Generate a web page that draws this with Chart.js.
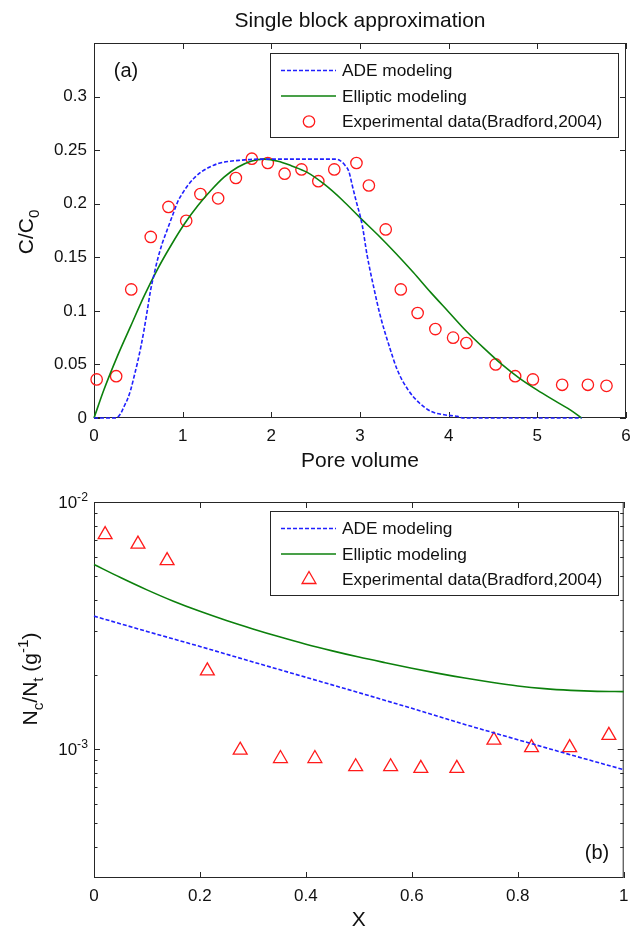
<!DOCTYPE html>
<html>
<head>
<meta charset="utf-8">
<script src="https://cdn.jsdelivr.net/npm/chart.js@4.4.0/dist/chart.umd.min.js"></script>
<style>
  html, body { margin: 0; padding: 0; background: #fff; overflow: hidden; }
  #wrap { position: relative; width: 633px; height: 927px; }
  #top { position: absolute; left: 0; top: 0; }
  #bot { position: absolute; left: 0; top: 480px; }
</style>
</head>
<body>
<div id="wrap">
  <canvas id="top" width="633" height="480"></canvas>
  <canvas id="bot" width="633" height="460"></canvas>
</div>
<script>
// ---- (a) effluent concentration vs pore volume ----
const pvObs = [0.03, 0.25, 0.42, 0.64, 0.84, 1.04, 1.20, 1.40, 1.60, 1.78, 1.96, 2.15, 2.34, 2.53, 2.71,
               2.96, 3.10, 3.29, 3.46, 3.65, 3.85, 4.05, 4.20, 4.53, 4.75, 4.95, 5.28, 5.57, 5.78];
const cObs = [0.036, 0.039, 0.120, 0.169, 0.197, 0.184, 0.209, 0.205, 0.224, 0.242, 0.238, 0.228, 0.232, 0.221, 0.232,
              0.238, 0.217, 0.176, 0.120, 0.098, 0.083, 0.075, 0.070, 0.050, 0.039, 0.036, 0.031, 0.031, 0.030];

const adePv = [0, 0.245, 0.30, 0.34, 0.38, 0.415, 0.45, 0.49, 0.53, 0.566, 0.60, 0.64, 0.68, 0.717, 0.77,
               0.83, 0.89, 0.943, 1.0, 1.057, 1.13, 1.21, 1.30, 1.40, 1.52, 1.66, 1.85, 2.72, 2.78, 2.83,
               2.875, 2.91, 2.95, 3.025, 3.08, 3.16, 3.23, 3.33, 3.42, 3.54, 3.67, 3.80, 3.95, 4.10, 4.17, 5.50];
const adeC = [0, 0, 0.004, 0.011, 0.018, 0.0266, 0.038, 0.0516, 0.067, 0.083, 0.100, 0.120, 0.135, 0.148, 0.163,
              0.1766, 0.190, 0.2016, 0.210, 0.217, 0.224, 0.2297, 0.234, 0.2375, 0.2395, 0.2406, 0.2416, 0.2416, 0.240, 0.236,
              0.230, 0.218, 0.2046, 0.180, 0.152, 0.120, 0.095, 0.067, 0.045, 0.0265, 0.014, 0.0062, 0.003, 0.0015, 0, 0];

const ellPv = [0, 0.113, 0.264, 0.415, 0.566, 0.717, 0.868, 1.019, 1.17, 1.32, 1.47, 1.62, 1.77, 1.92, 2.075,
               2.23, 2.4, 2.6, 2.8, 3.0, 3.2, 3.4, 3.6, 3.8, 4.0, 4.2, 4.4, 4.6, 4.8, 5.0,
               5.2, 5.4, 5.5];
const ellC = [0, 0.0266, 0.0578, 0.086, 0.114, 0.139, 0.161, 0.181, 0.198, 0.2125, 0.225, 0.234, 0.2397, 0.2416, 0.2397,
              0.2353, 0.2295, 0.218, 0.2035, 0.187, 0.171, 0.154, 0.136, 0.117, 0.099, 0.081, 0.065, 0.050, 0.037, 0.026,
              0.016, 0.006, 0];

const pvTicks = [0, 1, 2, 3, 4, 5, 6];
const cTicks = [0, 0.05, 0.1, 0.15, 0.2, 0.25, 0.3, 0.35];
const cLabels = ['0', '0.05', '0.1', '0.15', '0.2', '0.25', '0.3', ''];

// ---- (b) retained profile vs distance ----
const xObs = [0.021, 0.083, 0.138, 0.214, 0.276, 0.352, 0.417, 0.494, 0.56, 0.617, 0.685, 0.755, 0.826, 0.898, 0.972];
const ncObs = [7.38e-3, 6.75e-3, 5.79e-3, 2.07e-3, 9.88e-4, 9.14e-4, 9.14e-4, 8.47e-4, 8.47e-4, 8.34e-4, 8.34e-4,
               1.086e-3, 1.012e-3, 1.012e-3, 1.135e-3];

const xAde = [0, 0.1, 0.2, 0.3, 0.4, 0.5, 0.6, 0.7, 0.8, 0.9, 1.0];
const adeN = [3.45e-3, 2.99e-3, 2.60e-3, 2.25e-3, 1.95e-3, 1.69e-3, 1.46e-3, 1.256e-3, 1.089e-3, 9.46e-4, 8.24e-4];

const xEll = [0, 0.05, 0.1, 0.15, 0.2, 0.25, 0.3, 0.35, 0.4, 0.45, 0.5, 0.55, 0.6, 0.65, 0.7, 0.75, 0.8, 0.85, 0.9, 0.95, 1.0];
const ellN = [5.585e-3, 4.943e-3, 4.406e-3, 3.963e-3, 3.606e-3, 3.311e-3, 3.062e-3, 2.844e-3, 2.655e-3, 2.495e-3, 2.355e-3,
              2.234e-3, 2.123e-3, 2.023e-3, 1.936e-3, 1.862e-3, 1.799e-3, 1.754e-3, 1.726e-3, 1.710e-3, 1.706e-3];

const xTicks = [0, 0.2, 0.4, 0.6, 0.8, 1];
const nTicks = [1e-3, 1e-2];
const nExp = ['-3', '-2'];
const nMinor = [4e-4, 5e-4, 6e-4, 7e-4, 8e-4, 9e-4, 2e-3, 3e-3, 4e-3, 5e-3, 6e-3, 7e-3, 8e-3, 9e-3];

const FONT = "'Liberation Sans', Arial, Helvetica, sans-serif";
const BLUE = '#2020ff', GREEN = '#0c800c', RED = '#ff1a1a', INK = '#111';
Chart.defaults.font.family = FONT;
Chart.defaults.color = INK;

const pts = (xs, ys) => xs.map((x, i) => ({ x, y: ys[i] }));

// text with sub/superscript pieces
function richText(ctx, parts, x, y, size, align) {
  const sz = p => (p.sub || p.sup) ? size * 0.72 : size;
  let w = 0;
  parts.forEach(p => { ctx.font = sz(p) + 'px ' + FONT; w += ctx.measureText(p.t).width; });
  let cx = align === 'center' ? x - w / 2 : align === 'right' ? x - w : x;
  ctx.textAlign = 'left';
  parts.forEach(p => {
    ctx.font = sz(p) + 'px ' + FONT;
    const dy = p.sub ? size * 0.28 : p.sup ? -size * 0.42 : 0;
    ctx.fillText(p.t, cx, y + dy);
    cx += ctx.measureText(p.t).width;
  });
}

const decor = {
  id: 'decor',
  // box and inward ticks on all four sides, under the data
  beforeDatasetsDraw(chart, args, o) {
    const { ctx, chartArea: a } = chart;
    const sx = chart.scales.x, sy = chart.scales.y;
    ctx.save();
    ctx.strokeStyle = '#262626';
    ctx.lineWidth = 1;
    ctx.strokeRect(a.left + 0.5, a.top + 0.5, a.width - 1, a.height - 1);
    ctx.beginPath();
    o.xTicks.forEach(v => {
      const p = Math.round(sx.getPixelForValue(v)) + 0.5;
      ctx.moveTo(p, a.bottom); ctx.lineTo(p, a.bottom - 6);
      ctx.moveTo(p, a.top); ctx.lineTo(p, a.top + 6);
    });
    const yt = (v, len) => {
      const p = Math.round(sy.getPixelForValue(v)) + 0.5;
      ctx.moveTo(a.left, p); ctx.lineTo(a.left + len, p);
      ctx.moveTo(a.right, p); ctx.lineTo(a.right - len, p);
    };
    o.yTicks.forEach(v => yt(v, 6));
    (o.yMinor || []).forEach(v => yt(v, 3.5));
    ctx.stroke();
    ctx.restore();
  },
  afterDraw(chart, args, o) {
    const { ctx, chartArea: a } = chart;
    const sy = chart.scales.y;
    ctx.save();
    ctx.fillStyle = INK;
    ctx.textBaseline = 'alphabetic';
    // log tick labels
    if (o.logLabels) {
      o.logLabels.values.forEach((v, i) => {
        const p = sy.getPixelForValue(v);
        richText(ctx, [{ t: '10' }, { t: o.logLabels.exps[i], sup: true }], a.left - 6, p + 6, 17, 'right');
      });
    }
    // title
    if (o.title) {
      ctx.font = '21px ' + FONT;
      ctx.textAlign = 'center';
      ctx.textBaseline = 'middle';
      ctx.fillText(o.title, (a.left + a.right) / 2, 21);
      ctx.textBaseline = 'alphabetic';
    }
    // rotated y label
    ctx.save();
    ctx.translate(o.yLabel.x, o.yLabel.y);
    ctx.rotate(-Math.PI / 2);
    richText(ctx, o.yLabel.parts, 0, 0, 21, 'center');
    ctx.restore();
    // panel tag
    ctx.font = '20px ' + FONT;
    ctx.textAlign = 'center';
    ctx.textBaseline = 'middle';
    ctx.fillText(o.tag.text, o.tag.x, o.tag.y);

    // legend box
    const L = o.legend;
    ctx.fillStyle = '#fff';
    ctx.fillRect(L.x, L.y, L.w, L.h);
    ctx.strokeStyle = '#262626';
    ctx.lineWidth = 1;
    ctx.strokeRect(L.x + 0.5, L.y + 0.5, L.w, L.h);
    L.rows.forEach((r, i) => {
      const ry = L.y + 17.5 + i * 25.5;
      ctx.save();
      ctx.strokeStyle = r.color;
      if (r.kind === 'dash' || r.kind === 'line') {
        ctx.lineWidth = 1.6;
        ctx.setLineDash(r.kind === 'dash' ? [4, 2] : []);
        ctx.beginPath(); ctx.moveTo(L.x + 11, ry); ctx.lineTo(L.x + 66, ry); ctx.stroke();
      } else {
        ctx.lineWidth = 1.3;
        const cx = L.x + 39;
        ctx.beginPath();
        if (r.kind === 'circle') {
          ctx.arc(cx, ry, 5.7, 0, Math.PI * 2);
        } else {
          const R = 8;
          ctx.moveTo(cx, ry - R);
          ctx.lineTo(cx + R * 0.866, ry + R / 2);
          ctx.lineTo(cx - R * 0.866, ry + R / 2);
          ctx.closePath();
        }
        ctx.stroke();
      }
      ctx.restore();
      ctx.fillStyle = INK;
      ctx.font = '17.3px ' + FONT;
      ctx.textAlign = 'left';
      ctx.textBaseline = 'middle';
      ctx.fillText(r.label, L.x + 72, ry + 1);
    });
    ctx.restore();
  }
};

// fixed axis box sizes, no label overhang padding
function axisFit(w, h) {
  return s => {
    if (w) s.width = w;
    if (h) s.height = h;
    s.paddingLeft = 0; s.paddingRight = 0; s.paddingTop = 0; s.paddingBottom = 0;
  };
}

// ---- chart (a) ----
new Chart(document.getElementById('top'), {
  type: 'scatter',
  data: {
    datasets: [
      { label: 'ADE modeling', data: pts(adePv, adeC), showLine: true, borderColor: BLUE, borderWidth: 1.6,
        borderDash: [4, 2], pointRadius: 0, cubicInterpolationMode: 'monotone', clip: 4 },
      { label: 'Elliptic modeling', data: pts(ellPv, ellC), showLine: true, borderColor: GREEN, borderWidth: 1.6,
        pointRadius: 0, cubicInterpolationMode: 'monotone', clip: 4 },
      { label: 'Experimental data(Bradford,2004)', data: pts(pvObs, cObs), showLine: false, pointStyle: 'circle',
        pointRadius: 5.7, pointBorderWidth: 1.3, pointBorderColor: RED, pointBackgroundColor: 'rgba(0,0,0,0)', clip: false }
    ]
  },
  options: {
    responsive: false,
    animation: false,
    layout: { padding: { top: 43, left: 0, right: 6, bottom: 0 } },
    plugins: {
      legend: { display: false },
      tooltip: { enabled: false },
      decor: {
        xTicks: pvTicks, yTicks: cTicks,
        title: 'Single block approximation',
        yLabel: { x: 33, y: 232, parts: [{ t: 'C/C' }, { t: '0', sub: true }] },
        tag: { text: '(a)', x: 126, y: 71 },
        legend: { x: 270, y: 53, w: 348, h: 84, rows: [
          { kind: 'dash', color: BLUE, label: 'ADE modeling' },
          { kind: 'line', color: GREEN, label: 'Elliptic modeling' },
          { kind: 'circle', color: RED, label: 'Experimental data(Bradford,2004)' }
        ] }
      }
    },
    scales: {
      x: {
        type: 'linear', min: 0, max: 6,
        grid: { display: false, drawTicks: false }, border: { display: false },
        afterBuildTicks: s => { s.ticks = pvTicks.map(v => ({ value: v })); },
        afterFit: axisFit(0, 62),
        ticks: { font: { size: 17 }, padding: 8, maxRotation: 0, callback: v => String(v) },
        title: { display: true, text: 'Pore volume', font: { size: 21 }, padding: { top: 0, bottom: 6 } }
      },
      y: {
        type: 'linear', min: 0, max: 0.35,
        grid: { display: false, drawTicks: false }, border: { display: false },
        afterBuildTicks: s => { s.ticks = cTicks.map(v => ({ value: v })); },
        afterFit: axisFit(94, 0),
        ticks: { font: { size: 17 }, padding: 7, callback: (v, i) => cLabels[i] }
      }
    }
  },
  plugins: [decor]
});

// ---- chart (b) ----
new Chart(document.getElementById('bot'), {
  type: 'scatter',
  data: {
    datasets: [
      { label: 'ADE modeling', data: pts(xAde, adeN), showLine: true, borderColor: BLUE, borderWidth: 1.6,
        borderDash: [4, 2], pointRadius: 0, clip: 4 },
      { label: 'Elliptic modeling', data: pts(xEll, ellN), showLine: true, borderColor: GREEN, borderWidth: 1.6,
        pointRadius: 0, cubicInterpolationMode: 'monotone', clip: 4 },
      { label: 'Experimental data(Bradford,2004)', data: pts(xObs, ncObs), showLine: false, pointStyle: 'triangle',
        pointRadius: 8, pointBorderWidth: 1.3, pointBorderColor: RED, pointBackgroundColor: 'rgba(0,0,0,0)', clip: false }
    ]
  },
  options: {
    responsive: false,
    animation: false,
    layout: { padding: { top: 22, left: 0, right: 6, bottom: 0 } },
    plugins: {
      legend: { display: false },
      tooltip: { enabled: false },
      decor: {
        xTicks: xTicks, yTicks: nTicks, yMinor: nMinor,
        logLabels: { values: nTicks, exps: nExp },
        yLabel: { x: 37, y: 199, parts: [{ t: 'N' }, { t: 'c', sub: true }, { t: '/N' }, { t: 't', sub: true },
                                          { t: ' (g' }, { t: '-1', sup: true }, { t: ')' }] },
        tag: { text: '(b)', x: 597, y: 373 },
        legend: { x: 270, y: 31, w: 348, h: 84, rows: [
          { kind: 'dash', color: BLUE, label: 'ADE modeling' },
          { kind: 'line', color: GREEN, label: 'Elliptic modeling' },
          { kind: 'triangle', color: RED, label: 'Experimental data(Bradford,2004)' }
        ] }
      }
    },
    scales: {
      x: {
        type: 'linear', min: 0, max: 1,
        grid: { display: false, drawTicks: false }, border: { display: false },
        afterBuildTicks: s => { s.ticks = xTicks.map(v => ({ value: v })); },
        afterFit: axisFit(0, 62),
        ticks: { font: { size: 17 }, padding: 8, maxRotation: 0, callback: v => String(v) },
        title: { display: true, text: 'X', font: { size: 21 }, padding: { top: 0, bottom: 7 } }
      },
      y: {
        type: 'logarithmic', min: 3.1e-4, max: 1e-2,
        grid: { display: false, drawTicks: false }, border: { display: false },
        afterBuildTicks: s => { s.ticks = nTicks.map(v => ({ value: v })); },
        afterFit: axisFit(94, 0),
        ticks: { display: false }
      }
    }
  },
  plugins: [decor]
});
</script>
</body>
</html>
